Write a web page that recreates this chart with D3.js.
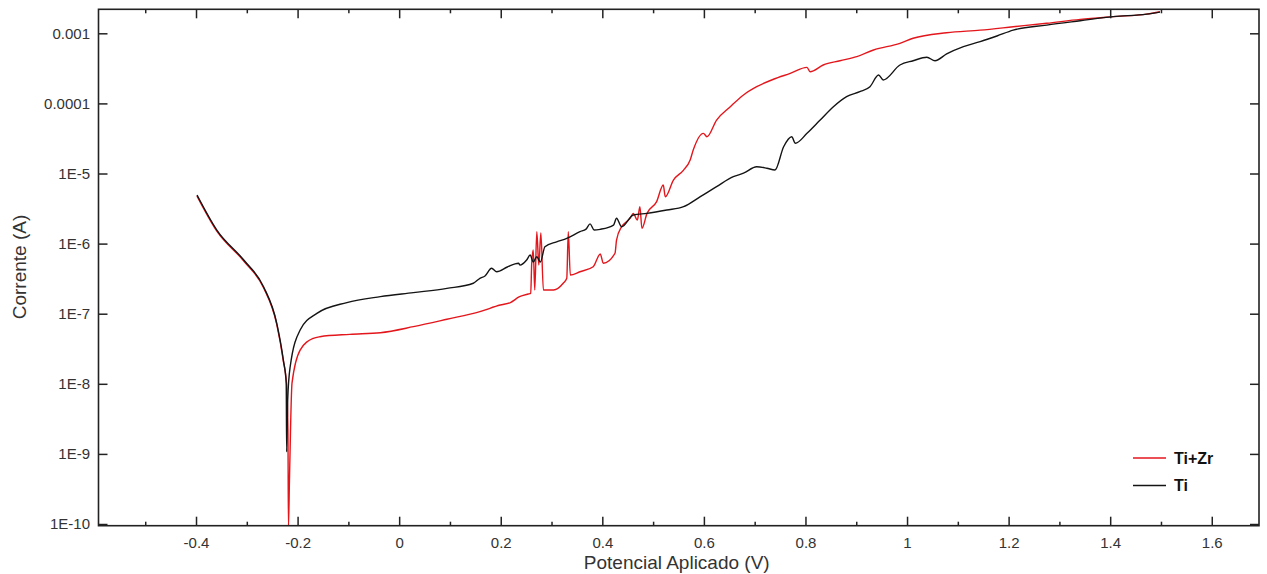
<!DOCTYPE html>
<html>
<head>
<meta charset="utf-8">
<script src="https://cdn.jsdelivr.net/npm/d3@7"></script>
<style>
  body { margin: 0; background: #fff; }
  text { font-family: "Liberation Sans", Arial, sans-serif; }
</style>
</head>
<body>
<div id="chart"></div>
<script>
// data (potential in V, current in A)
var potTi = [-0.398, -0.359, -0.306, -0.267, -0.241, -0.228, -0.2224, -0.2215, -0.2195, -0.2146,
  -0.195, -0.162, -0.103, -0.037, 0.028, 0.094, 0.146, 0.159, 0.169, 0.182,
  0.192, 0.213, 0.235, 0.238, 0.251, 0.258, 0.264, 0.271, 0.278, 0.287,
  0.310, 0.330, 0.356, 0.368, 0.376, 0.384, 0.396, 0.422, 0.428, 0.438,
  0.461, 0.488, 0.527, 0.560, 0.593, 0.625, 0.658, 0.678, 0.704, 0.724,
  0.740, 0.757, 0.773, 0.780, 0.803, 0.829, 0.855, 0.881, 0.907, 0.927,
  0.944, 0.953, 0.986, 1.012, 1.039, 1.055, 1.078, 1.111, 1.144, 1.177,
  1.209, 1.275, 1.341, 1.406, 1.472, 1.498];
var curTi = [4.93e-6, 1.56e-6, 5.83e-7, 2.43e-7, 7.3e-8, 2.18e-8, 1.03e-8, 1.07e-9, 5.9e-9, 1.75e-8,
  5.85e-8, 1.01e-7, 1.44e-7, 1.75e-7, 2.0e-7, 2.3e-7, 2.72e-7, 3.2e-7, 3.45e-7, 4.45e-7,
  3.97e-7, 4.64e-7, 5.24e-7, 4.94e-7, 5.83e-7, 6.87e-7, 5.47e-7, 6.5e-7, 5.47e-7, 9.04e-7,
  1.06e-6, 1.19e-6, 1.48e-6, 1.61e-6, 1.91e-6, 1.56e-6, 1.6e-6, 1.84e-6, 2.3e-6, 1.74e-6,
  2.56e-6, 2.7e-6, 3.01e-6, 3.36e-6, 4.67e-6, 6.49e-6, 9.0e-6, 1.01e-5, 1.25e-5, 1.19e-5,
  1.12e-5, 2.41e-5, 3.35e-5, 2.7e-5, 3.74e-5, 5.79e-5, 8.97e-5, 1.25e-4, 1.47e-4, 1.73e-4,
  2.54e-4, 2.16e-4, 3.53e-4, 4.06e-4, 4.55e-4, 4.06e-4, 5.07e-4, 6.44e-4, 7.59e-4, 9.15e-4,
  1.11e-3, 1.31e-3, 1.51e-3, 1.73e-3, 1.88e-3, 2.01e-3];

var potTiZr = [-0.398, -0.359, -0.306, -0.267, -0.241, -0.228, -0.2215, -0.219, -0.218, -0.216,
  -0.211, -0.195, -0.169, -0.156, -0.097, -0.037, 0.028, 0.094, 0.159, 0.199,
  0.219, 0.237, 0.254, 0.259, 0.261, 0.264, 0.267, 0.271, 0.275, 0.279,
  0.284, 0.304, 0.323, 0.330, 0.333, 0.337, 0.356, 0.382, 0.396, 0.402,
  0.425, 0.428, 0.438, 0.447, 0.455, 0.461, 0.469, 0.474, 0.478, 0.488,
  0.507, 0.520, 0.524, 0.540, 0.560, 0.573, 0.579, 0.599, 0.606, 0.625,
  0.652, 0.678, 0.704, 0.737, 0.770, 0.803, 0.809, 0.835, 0.868, 0.901,
  0.934, 0.986, 1.012, 1.078, 1.144, 1.209, 1.275, 1.341, 1.406, 1.472, 1.498];
var curTiZr = [4.77e-6, 1.51e-6, 5.65e-7, 2.35e-7, 7.06e-8, 2.11e-8, 9.6e-9, 2.19e-9, 9e-11, 4.25e-10,
  1.02e-8, 3.03e-8, 4.46e-8, 4.7e-8, 5.08e-8, 5.36e-8, 6.53e-8, 8.32e-8, 1.07e-7, 1.33e-7,
  1.44e-7, 1.75e-7, 1.91e-7, 1.95e-7, 5.24e-7, 8.1e-7, 2.18e-7, 1.48e-6, 4.94e-7, 1.42e-6,
  2.18e-7, 2.18e-7, 2.72e-7, 3.2e-7, 1.48e-6, 3.56e-7, 3.97e-7, 4.68e-7, 7.11e-7, 5.24e-7,
  7.28e-7, 1.12e-6, 1.74e-6, 2.03e-6, 2.32e-6, 2.7e-6, 2.17e-6, 3.36e-6, 1.65e-6, 2.7e-6,
  3.97e-6, 6.86e-6, 4.67e-6, 8.07e-6, 1.12e-5, 1.56e-5, 2.16e-5, 3.74e-5, 3.35e-5, 5.79e-5,
  8.97e-5, 1.32e-4, 1.73e-4, 2.21e-4, 2.68e-4, 3.27e-4, 2.83e-4, 3.53e-4, 4.06e-4, 4.64e-4,
  5.78e-4, 7.19e-4, 8.49e-4, 1.02e-3, 1.11e-3, 1.24e-3, 1.39e-3, 1.58e-3, 1.73e-3, 1.88e-3, 2.03e-3];

var xMajor = [-0.4, -0.2, 0, 0.2, 0.4, 0.6, 0.8, 1, 1.2, 1.4, 1.6];
var xMinor = [-0.5, -0.3, -0.1, 0.1, 0.3, 0.5, 0.7, 0.9, 1.1, 1.3, 1.5];
var xLabels = ['-0.4', '-0.2', '0', '0.2', '0.4', '0.6', '0.8', '1', '1.2', '1.4', '1.6'];
var yTicks = [1e-3, 1e-4, 1e-5, 1e-6, 1e-7, 1e-8, 1e-9, 1e-10];
var yLabels = ['0.001', '0.0001', '1E-5', '1E-6', '1E-7', '1E-8', '1E-9', '1E-10'];
var seriesNames = ['Ti+Zr', 'Ti'];
var seriesColors = ['#e3161c', '#141414'];

(function() {
  // layout
  var W = 1267, H = 574,
      pLeft = 98.5, pRight = 1259, pTop = 9.3, pBottom = 525.7,
      axisColor = '#222', textColor = '#333';

  var x = d3.scaleLinear().domain([-0.592, 1.693]).range([pLeft, pRight]);
  var y = d3.scaleLog().domain([9.46e-11, 2.2e-3]).range([pBottom, pTop]);

  var svg = d3.select('#chart').append('svg')
    .attr('width', W)
    .attr('height', H);

  svg.append('clipPath').attr('id', 'clip')
    .append('rect')
    .attr('x', pLeft).attr('y', pTop)
    .attr('width', pRight - pLeft).attr('height', pBottom - pTop);

  // curves
  var line = d3.line()
    .curve(d3.curveMonotoneX)
    .x(function(d) { return x(d[0]); })
    .y(function(d) { return y(d[1]); });

  var series = [
    d3.zip(potTiZr, curTiZr),
    d3.zip(potTi, curTi)
  ];

  svg.append('g').attr('clip-path', 'url(#clip)')
    .selectAll('path')
    .data(series)
    .join('path')
    .attr('d', line)
    .attr('fill', 'none')
    .attr('stroke', function(d, i) { return seriesColors[i]; })
    .attr('stroke-width', 1.4)
    .attr('stroke-linejoin', 'round');

  // axes
  function styleAxis(g) {
    g.select('.domain').remove();
    g.selectAll('line').attr('stroke', axisColor).attr('stroke-width', 1.5);
    g.selectAll('text')
      .attr('fill', textColor)
      .style('font-size', '15px');
  }

  svg.append('g')
    .attr('transform', 'translate(0,' + pBottom + ')')
    .call(d3.axisBottom(x).tickValues(xMajor).tickSize(-9).tickPadding(11.5)
      .tickFormat(function(d, i) { return xLabels[i]; }))
    .call(styleAxis);

  svg.append('g')
    .attr('transform', 'translate(0,' + pBottom + ')')
    .call(d3.axisBottom(x).tickValues(xMinor).tickSize(-4).tickFormat(''))
    .call(styleAxis);

  svg.append('g')
    .attr('transform', 'translate(0,' + pTop + ')')
    .call(d3.axisTop(x).tickValues(xMajor).tickSize(-9).tickFormat(''))
    .call(styleAxis);

  svg.append('g')
    .attr('transform', 'translate(0,' + pTop + ')')
    .call(d3.axisTop(x).tickValues(xMinor).tickSize(-4).tickFormat(''))
    .call(styleAxis);

  svg.append('g')
    .attr('transform', 'translate(' + pLeft + ',0)')
    .call(d3.axisLeft(y).tickValues(yTicks).tickSize(-9).tickPadding(8.5)
      .tickFormat(function(d, i) { return yLabels[i]; }))
    .call(styleAxis);

  svg.append('g')
    .attr('transform', 'translate(' + pRight + ',0)')
    .call(d3.axisRight(y).tickValues(yTicks).tickSize(-9).tickFormat(''))
    .call(styleAxis);

  // frame
  svg.append('rect')
    .attr('x', pLeft).attr('y', pTop)
    .attr('width', pRight - pLeft).attr('height', pBottom - pTop)
    .attr('fill', 'none')
    .attr('stroke', axisColor)
    .attr('stroke-width', 1.6);

  // axis titles
  svg.append('text')
    .attr('x', (pLeft + pRight) / 2 - 2)
    .attr('y', 569)
    .attr('text-anchor', 'middle')
    .attr('fill', textColor)
    .style('font-size', '19px')
    .text('Potencial Aplicado (V)');

  svg.append('text')
    .attr('transform', 'translate(26,267) rotate(-90)')
    .attr('text-anchor', 'middle')
    .attr('fill', textColor)
    .style('font-size', '19px')
    .text('Corrente (A)');

  // legend
  var legend = svg.append('g').attr('transform', 'translate(1133,458)');
  seriesNames.forEach(function(name, i) {
    var row = legend.append('g').attr('transform', 'translate(0,' + (i * 27.5) + ')');
    row.append('line')
      .attr('x1', 0).attr('x2', 33)
      .attr('stroke', seriesColors[i])
      .attr('stroke-width', 1.5);
    row.append('text')
      .attr('x', 41).attr('y', 5.5)
      .attr('fill', '#111')
      .style('font-size', '16px')
      .style('font-weight', 'bold')
      .text(name);
  });
})();
</script>
</body>
</html>
